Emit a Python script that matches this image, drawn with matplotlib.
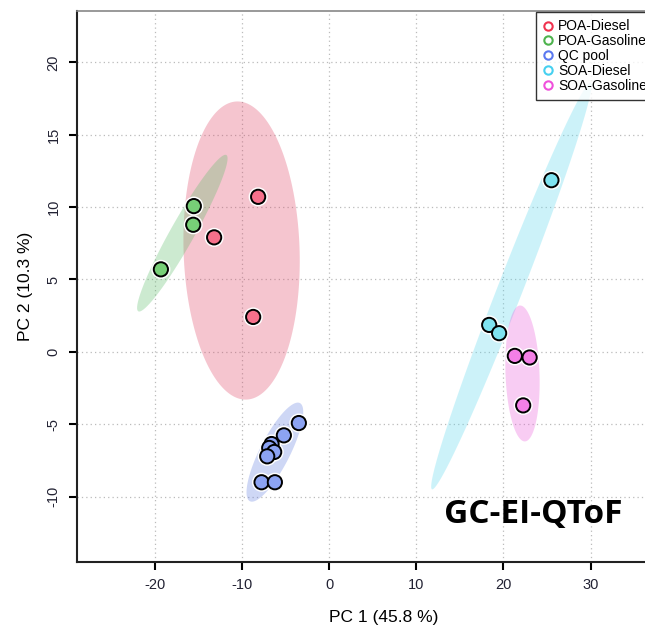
import numpy as np
import matplotlib.pyplot as plt
import matplotlib.patheffects as pe
from matplotlib.lines import Line2D
from matplotlib.patches import Polygon

plt.rcParams['font.family'] = ['Liberation Sans', 'DejaVu Sans']
plt.rcParams['axes.unicode_minus'] = False

# PCA scores
groups = ['POA-Diesel', 'POA-Gasoline', 'QC pool', 'SOA-Diesel', 'SOA-Gasoline']
poa_diesel_x = [-8.15, -13.2, -8.72]
poa_diesel_y = [10.71, 7.91, 2.41]
poa_gas_x = [-15.53, -15.6, -19.31]
poa_gas_y = [10.07, 8.78, 5.70]
qc_x = [-3.48, -5.2, -6.61, -6.88, -6.31, -7.11, -7.76, -6.23]
qc_y = [-4.92, -5.77, -6.37, -6.64, -6.92, -7.22, -9.01, -9.01]
soa_diesel_x = [25.5, 18.36, 19.5]
soa_diesel_y = [11.86, 1.86, 1.29]
soa_gas_x = [21.3, 23.0, 22.26]
soa_gas_y = [-0.28, -0.39, -3.7]

# confidence ellipses: the two ends of the long axis (data units)
ell_tips = [
    [(-10.6, 17.3), (-9.5, -3.3)],
    [(-11.8, 13.6), (-21.9, 2.8)],
    [(-3.36, -3.54), (-9.1, -10.32)],
    [(30.0, 18.6), (11.8, -9.5)],
    [(21.9, 3.2), (22.46, -6.19)],
]
ell_halfwidth_px = [58, 12, 15, 12.5, 17]

xs = [poa_diesel_x, poa_gas_x, qc_x, soa_diesel_x, soa_gas_x]
ys = [poa_diesel_y, poa_gas_y, qc_y, soa_diesel_y, soa_gas_y]

point_cols = ['#F6708B', '#77CF77', '#8CA3F2', '#7FE3F0', '#F47FE6']
ell_cols = ['#DE4162', '#58BC66', '#5F7BE0', '#58D7EE', '#EB58DA']
legend_cols = ['#F0324F', '#4DB34D', '#5A78F0', '#45D0F0', '#F050DC']

fig = plt.figure(figsize=(6.45, 6.26), dpi=100)
W, H = 645, 626
ax = fig.add_axes([77.3 / W, 64.3 / H, (690 - 77.3) / W, (561.7 - 11) / H])
ax.set_xlim(-28.9, 41.4)
ax.set_ylim(-14.5, 23.55)


def ellipse_poly(p1, p2, half_px):
    # build the ellipse in pixel space so the short axis is perpendicular on screen
    a = ax.transData.transform(p1)
    b = ax.transData.transform(p2)
    c = (a + b) / 2
    u = (b - a) / 2
    v = np.array([-u[1], u[0]]) / np.hypot(*u) * half_px
    t = np.linspace(0, 2 * np.pi, 200)
    pts = c + np.outer(np.cos(t), u) + np.outer(np.sin(t), v)
    return ax.transData.inverted().transform(pts)


for tips, hw, col in zip(ell_tips, ell_halfwidth_px, ell_cols):
    ax.add_patch(Polygon(ellipse_poly(tips[0], tips[1], hw), closed=True,
                         facecolor=col, alpha=0.3, edgecolor='none', zorder=1))

halo = [pe.Stroke(linewidth=3.5, foreground='white'), pe.Normal()]
for x, y, col in zip(xs, ys, point_cols):
    sc = ax.scatter(x, y, s=105, c=col, edgecolors='black', linewidths=1.4, zorder=3)
    sc.set_path_effects(halo)

ax.set_xticks([-20, -10, 0, 10, 20, 30])
ax.set_yticks([-10, -5, 0, 5, 10, 15, 20])
ax.grid(True, linestyle=(0, (1, 2.5)), color='#BBBBBB', linewidth=0.9)
ax.set_axisbelow(True)
ax.tick_params(direction='out', length=6, width=1.5, labelsize=10.5,
               labelcolor='#222233', pad=6)
plt.setp(ax.get_yticklabels(), rotation=90, va='center')

for s in ['left', 'bottom']:
    ax.spines[s].set_linewidth(1.5)
    ax.spines[s].set_color('#222222')
ax.spines['top'].set_color('#888888')
ax.spines['top'].set_linewidth(1.2)

ax.set_xlabel('PC 1 (45.8 %)', fontsize=12.5, labelpad=13)
ax.set_ylabel('PC 2 (10.3 %)', fontsize=12.5, labelpad=10)

handles = [Line2D([], [], linestyle='none', marker='o', markersize=6,
                  markerfacecolor='none', markeredgecolor=c, markeredgewidth=1.5)
           for c in legend_cols]
leg = fig.legend(handles, groups, loc='upper left',
                 bbox_to_anchor=(535.7 / W, 1 - 12.5 / H), fontsize=10,
                 frameon=True, fancybox=False, edgecolor='black',
                 labelspacing=0.06, handletextpad=0.3, handlelength=0.8,
                 borderpad=0.5, borderaxespad=0)
leg.get_frame().set_linewidth(1.0)

fig.text(533 / W, 1 - 514 / H, 'GC-EI-QToF', fontsize=24,
         fontweight='bold', family='Open Sans', ha='center', va='center')

fig.savefig('out.png', dpi=100)
